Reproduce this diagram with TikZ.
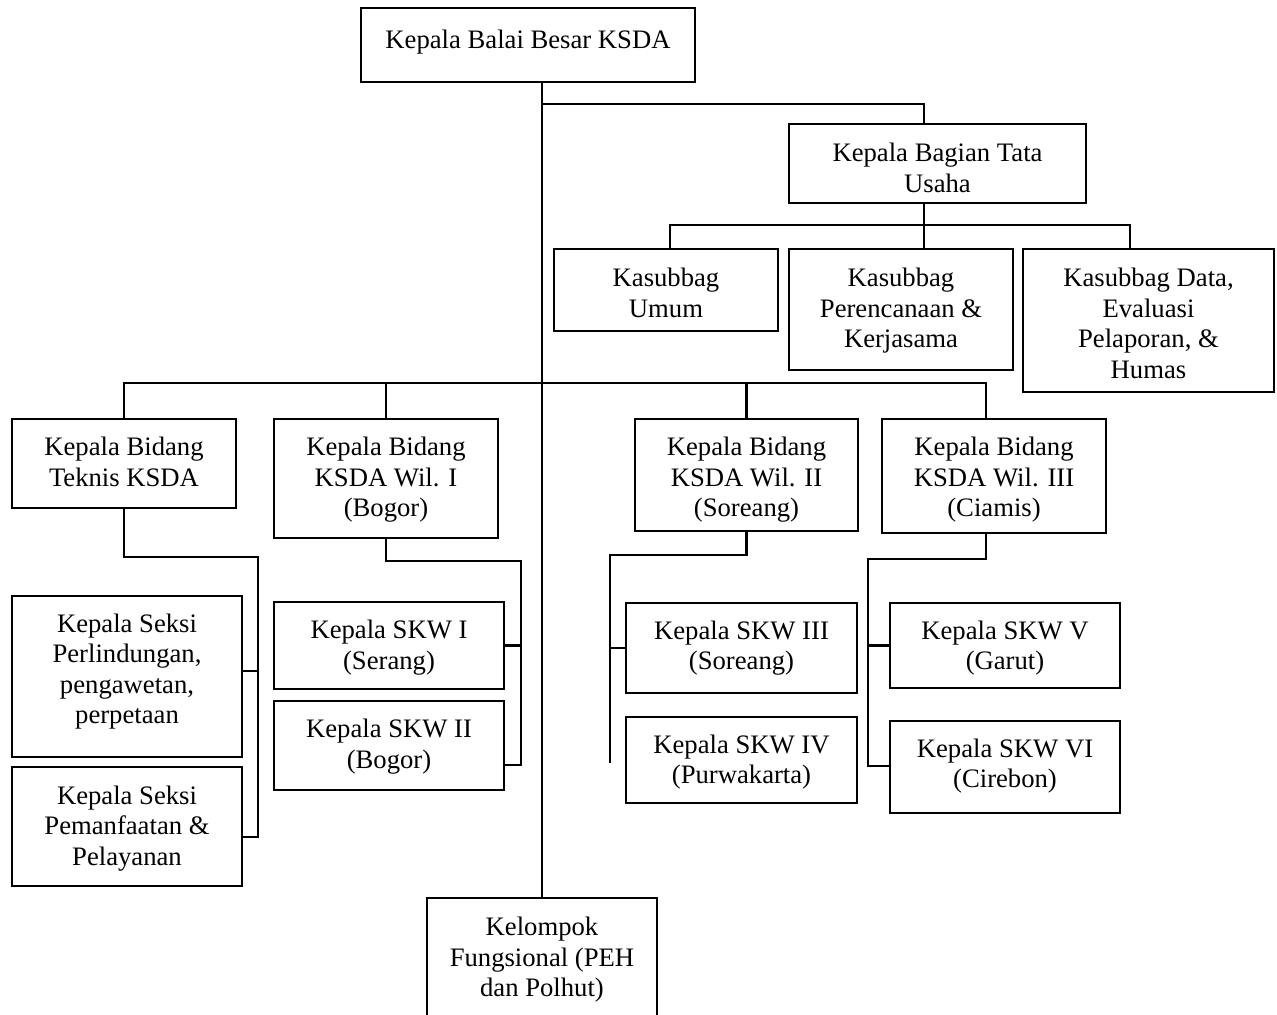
\documentclass[tikz,border=0pt]{standalone}
\usepackage{fontspec}
\setmainfont{Liberation Serif}
\usetikzlibrary{positioning}
\tikzset{
  orgbox/.style = { draw, rectangle, line width=1pt, inner sep=0pt, outer sep=0pt, anchor=north west },
  orgtxt/.style = { align=center, inner sep=0pt, font=\fontsize{12pt}{13.7pt}\selectfont,
    execute at begin node=\strut },
  conn/.style   = { line width=1pt }
}

\begin{document}
\begin{tikzpicture}[x=0.45pt,y=-0.45pt]
      \clip (0,0) rectangle (1277,1015);
      % kepala balai + tata usaha
      \node[orgbox, minimum width=150.3pt, minimum height=33.3pt] (kbb) at (361,8) {};
      \node[orgtxt, below=8.6pt of kbb.north] (kbb-t) {Kepala Balai Besar KSDA};
      \node[orgbox, minimum width=133.65pt, minimum height=35.55pt] (ktu) at (789,124) {};
      \node[orgtxt, below=8.5pt of ktu.north] (ktu-t) {Kepala Bagian Tata\\Usaha};
      % kasubbag
      \node[orgbox, minimum width=100.8pt, minimum height=36.9pt] (kumum) at (554,249) {};
      \node[orgtxt, below=8.5pt of kumum.north] (kumum-t) {Kasubbag\\Umum};
      \node[orgbox, minimum width=100.8pt, minimum height=54.45pt] (kperenc) at (789,249) {};
      \node[orgtxt, below=8.5pt of kperenc.north] (kperenc-t) {Kasubbag\\Perencanaan \&\\Kerjasama};
      \node[orgbox, minimum width=112.95pt, minimum height=64.35pt] (kdata) at (1023,249) {};
      \node[orgtxt, below=8.5pt of kdata.north] (kdata-t) {Kasubbag Data,\\Evaluasi\\Pelaporan, \&\\Humas};
      % kepala bidang
      \node[orgbox, minimum width=100.8pt, minimum height=40.05pt] (bteknis) at (12,419) {};
      \node[orgtxt, below=8pt of bteknis.north] (bteknis-t) {Kepala Bidang\\Teknis KSDA};
      \node[orgbox, minimum width=100.8pt, minimum height=53.55pt] (bwil1) at (274,419) {};
      \node[orgtxt, below=8pt of bwil1.north] (bwil1-t) {Kepala Bidang\\KSDA Wil. I\\(Bogor)};
      \node[orgbox, minimum width=100.35pt, minimum height=50.4pt] (bwil2) at (635,419) {};
      \node[orgtxt, below=8pt of bwil2.north] (bwil2-t) {Kepala Bidang\\KSDA Wil. II\\(Soreang)};
      \node[orgbox, minimum width=100.8pt, minimum height=51.3pt] (bwil3) at (882,419) {};
      \node[orgtxt, below=8pt of bwil3.north] (bwil3-t) {Kepala Bidang\\KSDA Wil. III\\(Ciamis)};
      % seksi
      \node[orgbox, minimum width=103.5pt, minimum height=72.45pt] (sperl) at (12,596) {};
      \node[orgtxt, below=7.8pt of sperl.north] (sperl-t) {Kepala Seksi\\Perlindungan,\\pengawetan,\\perpetaan};
      \node[orgbox, minimum width=103.5pt, minimum height=53.55pt] (spem) at (12,767) {};
      \node[orgtxt, below=8.2pt of spem.north] (spem-t) {Kepala Seksi\\Pemanfaatan \&\\Pelayanan};
      % skw
      \node[orgbox, minimum width=103.5pt, minimum height=39.15pt] (skw1) at (274,602) {};
      \node[orgtxt, below=8pt of skw1.north] (skw1-t) {Kepala SKW I\\(Serang)};
      \node[orgbox, minimum width=103.5pt, minimum height=40.05pt] (skw2) at (274,701) {};
      \node[orgtxt, below=8pt of skw2.north] (skw2-t) {Kepala SKW II\\(Bogor)};
      \node[orgbox, minimum width=103.95pt, minimum height=40.5pt] (skw3) at (626,603) {};
      \node[orgtxt, below=7.8pt of skw3.north] (skw3-t) {Kepala SKW III\\(Soreang)};
      \node[orgbox, minimum width=103.95pt, minimum height=38.7pt] (skw4) at (626,717) {};
      \node[orgtxt, below=7.8pt of skw4.north] (skw4-t) {Kepala SKW IV\\(Purwakarta)};
      \node[orgbox, minimum width=103.5pt, minimum height=38.25pt] (skw5) at (890,603) {};
      \node[orgtxt, below=7.8pt of skw5.north] (skw5-t) {Kepala SKW V\\(Garut)};
      \node[orgbox, minimum width=103.5pt, minimum height=41.4pt] (skw6) at (890,721) {};
      \node[orgtxt, below=7.8pt of skw6.north] (skw6-t) {Kepala SKW VI\\(Cirebon)};
      % fungsional
      \node[orgbox, minimum width=103.5pt, minimum height=59.4pt] (kfung) at (427,898) {};
      \node[orgtxt, below=8.4pt of kfung.north] (kfung-t) {Kelompok\\Fungsional (PEH\\dan Polhut)};

      % junctions
      \coordinate (jtu) at (924,104);
      \coordinate (jsub) at (924,225);
      \coordinate (jsub-l) at (670,225);
      \coordinate (jsub-r) at (1130,225);
      \coordinate (jbid-l) at (122,383);
      \coordinate (jbid-r) at (986,383);
      \coordinate (jt) at (258,557);
      \coordinate (jt-a) at (258,671);
      \coordinate (jt-b) at (258,837);
      \coordinate (j1) at (521,561);
      \coordinate (j1-b) at (521,765);
      \coordinate (j2) at (610,555);
      \coordinate (j2-end) at (610,763);
      \coordinate (j3) at (868,559);
      \coordinate (j3-b) at (868,766);

      \draw[conn] (kfung.north) -- (kfung.north |- kbb.south);
      \draw[conn] (kfung.north |- jtu) -- (jtu) -- (jtu |- ktu.north);
      \draw[conn] (jtu |- ktu.south) -- (jsub);
      \draw[conn] (jsub-l |- kumum.north) -- (jsub-l) -- (jsub-r) -- (jsub-r |- kdata.north);
      \draw[conn] (jsub) -- (jsub |- kperenc.north);
      \draw[conn] (bteknis.north) -- (bteknis.north |- jbid-l) -- (jbid-r) -- (jbid-r |- bwil3.north);
      \draw[conn] (bwil1.north |- jbid-l) -- (bwil1.north);
      \draw[conn] (bwil2.north |- jbid-l) -- (bwil2.north);
      % teknis
      \draw[conn] (bteknis.south) |- (jt) -- (jt-b) -- (jt-b -| spem.east);
      \draw[conn] (jt-a) -- (jt-a -| sperl.east);
      % wil I
      \draw[conn] (bwil1.south) |- (j1) -- (j1-b) -- (j1-b -| skw2.east);
      \draw[conn] (skw1.east) -- (skw1.east -| j1);
      % wil II
      \draw[conn] (bwil2.south) |- (j2) -- (j2-end);
      \draw[conn] (skw3.west) -- (skw3.west -| j2);
      % wil III
      \draw[conn] (bwil3.south -| jbid-r) -- (jbid-r |- j3) -- (j3) -- (j3-b) -- (j3-b -| skw6.west);
      \draw[conn] (skw5.west) -- (skw5.west -| j3);
\end{tikzpicture}
\end{document}
